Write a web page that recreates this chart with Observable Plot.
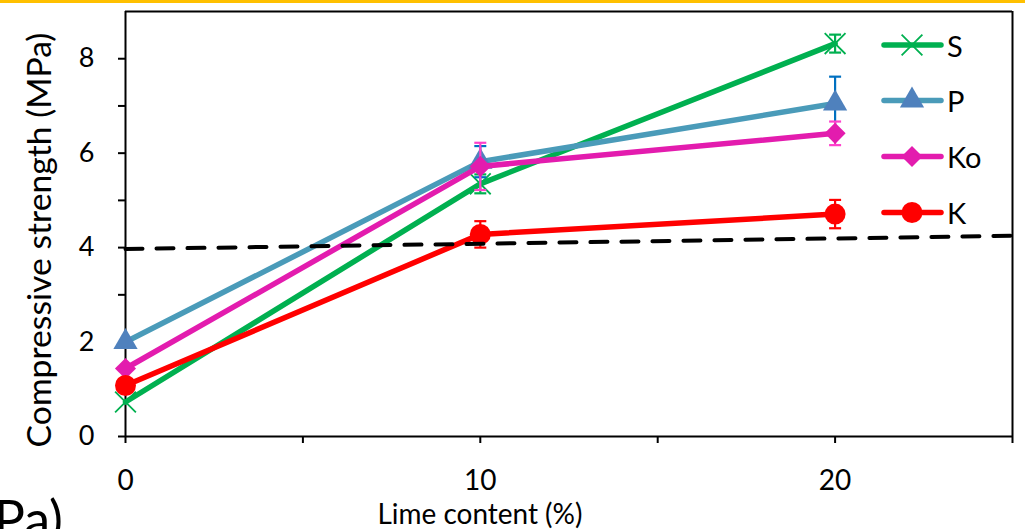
<!DOCTYPE html>
<html><head><meta charset="utf-8">
<script src="https://cdn.jsdelivr.net/npm/d3@7"></script>
<script src="https://cdn.jsdelivr.net/npm/@observablehq/plot@0.6"></script>
<style>
body{margin:0;background:#fff;}
#wrap{position:relative;width:1025px;height:529px;overflow:hidden;font-family:Lato,"Open Sans",sans-serif;background:#fff;}
#bar{position:absolute;left:0;top:0;width:1025px;height:3px;background:#ffc000;}
#chart,#overlay{position:absolute;left:0;top:0;}
</style></head><body>
<div id="wrap"><div id="chart"></div><svg id="overlay" width="1025" height="529"></svg><div id="bar"></div></div>
<script>
// ---- data ----
const limeContent = [0, 10, 20];
const seriesNames = ["S", "P", "Ko", "K"];
const valuesS  = [0.73, 5.35, 8.32];
const errS     = [0, 0.20, 0.19];
const valuesP  = [2.00, 5.82, 7.05];
const errP     = [0, 0.33, 0.57];
const valuesKo = [1.44, 5.72, 6.42];
const errKo    = [0, 0.50, 0.25];
const valuesK  = [1.08, 4.28, 4.71];
const errK     = [0, 0.28, 0.30];
const refLineX = [0, 25];
const refLineY = [3.97, 4.25];
const xTicks = [0, 5, 10, 15, 20, 25];
const xTickLabels = [0, 10, 20];
const yTicks = [0, 1, 2, 3, 4, 5, 6, 7, 8];
const yTickLabels = [0, 2, 4, 6, 8];
const xLabel = "Lime content (%)";
const yLabel = "Compressive strength (MPa)";
const cutText = "Pa)";

// ---- styles ----
const style = {
  S:  {line: "#00b050", mark: "#00b050", err: "#00b050", symbol: "times"},
  P:  {line: "#4a9bb9", mark: "#4f81bd", err: "#0070c0", symbol: "triangle"},
  Ko: {line: "#e31cae", mark: "#e31cae", err: "#ff40cc", symbol: "diamond2"},
  K:  {line: "#ff0000", mark: "#ff0000", err: "#ff0000", symbol: "circle"}
};
const symR = {times: 9.5, triangle: 9, diamond2: 9.5, circle: 10.5};

const seriesValues = {S: valuesS, P: valuesP, Ko: valuesKo, K: valuesK};
const seriesErrors = {S: errS, P: errP, Ko: errKo, K: errK};

const capSymbol = {draw(ctx) { ctx.moveTo(-6, 0); ctx.lineTo(6, 0); }};

const marks = [];
for (const name of seriesNames) {
  const st = style[name];
  const rows = limeContent.map((x, i) => ({x, y: seriesValues[name][i], e: seriesErrors[name][i]}));
  const errRows = rows.filter(d => d.e > 0);
  const capRows = errRows.flatMap(d => [{x: d.x, y: d.y + d.e}, {x: d.x, y: d.y - d.e}]);
  marks.push(Plot.line(rows, {x: "x", y: "y", stroke: st.line, strokeWidth: 5.5, strokeLinecap: "round", strokeLinejoin: "round"}));
  marks.push(Plot.ruleX(errRows, {x: "x", y1: d => d.y - d.e, y2: d => d.y + d.e, stroke: st.err, strokeWidth: 2.2}));
  marks.push(Plot.dot(capRows, {x: "x", y: "y", symbol: capSymbol, r: 6, stroke: st.err, strokeWidth: 2.2, fill: "none"}));
  if (st.symbol === "times") {
    marks.push(Plot.dot(rows, {x: "x", y: "y", symbol: "times", r: symR.times, stroke: st.mark, strokeWidth: 1.8, fill: "none"}));
  } else {
    marks.push(Plot.dot(rows, {x: "x", y: "y", symbol: st.symbol, r: symR[st.symbol], fill: st.mark, stroke: "none"}));
  }
}
const refRows = refLineX.map((x, i) => ({x, y: refLineY[i]}));

const chart = Plot.plot({
  width: 1025, height: 529,
  marginLeft: 125, marginRight: 13, marginTop: 11, marginBottom: 93,
  x: {domain: [0, 25]},
  y: {domain: [0, 9]},
  style: {fontFamily: "Lato, 'Open Sans', sans-serif", color: "black", background: "transparent", overflow: "visible"},
  marks: [
    Plot.axisX({ticks: xTicks, tickFormat: d => xTickLabels.includes(d) ? String(d) : "", tickSize: 7, tickPadding: 27, strokeWidth: 2, label: null, fontSize: 28}),
    Plot.axisY({ticks: yTicks, tickFormat: d => yTickLabels.includes(d) ? String(d) : "", tickSize: 7, tickPadding: 24, strokeWidth: 2, label: null, fontSize: 27}),
    Plot.ruleY([0], {strokeWidth: 2}),
    Plot.ruleX([0], {strokeWidth: 2}),
    Plot.ruleY([9], {strokeWidth: 2}),
    Plot.ruleX([25], {strokeWidth: 2}),
    ...marks,
    Plot.line(refRows, {x: "x", y: "y", stroke: "black", strokeWidth: 4, strokeDasharray: "17,14"})
  ]
});
document.getElementById("chart").appendChild(chart);

// ---- overlay texts and legend ----
const ov = d3.select("#overlay").style("font-family", "Lato, 'Open Sans', sans-serif");
function fit(sel, target) {
  const len = sel.node().getComputedTextLength();
  const fs = parseFloat(sel.style("font-size"));
  sel.style("font-size", (fs * target / len) + "px");
}
const yl = ov.append("text").attr("transform", "translate(38,240) rotate(-90)")
  .attr("text-anchor", "middle").attr("dominant-baseline", "central")
  .style("font-size", "30px").attr("fill", "black").text(yLabel);
fit(yl, 415);
const xl = ov.append("text").attr("x", 480).attr("y", 513)
  .attr("text-anchor", "middle").attr("dominant-baseline", "central")
  .style("font-size", "26px").attr("fill", "black").text(xLabel);
fit(xl, 205);
ov.append("text").attr("x", 63).attr("y", 538).attr("text-anchor", "end")
  .style("font-size", "52px").attr("fill", "black").text(cutText);

const legendY = [45, 100.5, 156.5, 212.5];
const d3sym = {times: d3.symbolTimes, triangle: d3.symbolTriangle, diamond2: d3.symbolDiamond2, circle: d3.symbolCircle};
seriesNames.forEach((name, i) => {
  const st = style[name];
  const g = ov.append("g").attr("transform", `translate(0,${legendY[i]})`);
  g.append("line").attr("x1", 884).attr("x2", 941).attr("y1", 0).attr("y2", 0)
    .attr("stroke", st.line).attr("stroke-width", 5.5).attr("stroke-linecap", "round");
  const r = symR[st.symbol];
  const p = g.append("path").attr("transform", "translate(912,0)")
    .attr("d", d3.symbol(d3sym[st.symbol], Math.PI * r * r)());
  if (st.symbol === "times") p.attr("fill", "none").attr("stroke", st.mark).attr("stroke-width", 1.8);
  else p.attr("fill", st.mark);
  g.append("text").attr("x", 947).attr("y", 0).attr("dominant-baseline", "central")
    .style("font-size", "29px").attr("fill", "black").text(name);
});
</script>
</body></html>
